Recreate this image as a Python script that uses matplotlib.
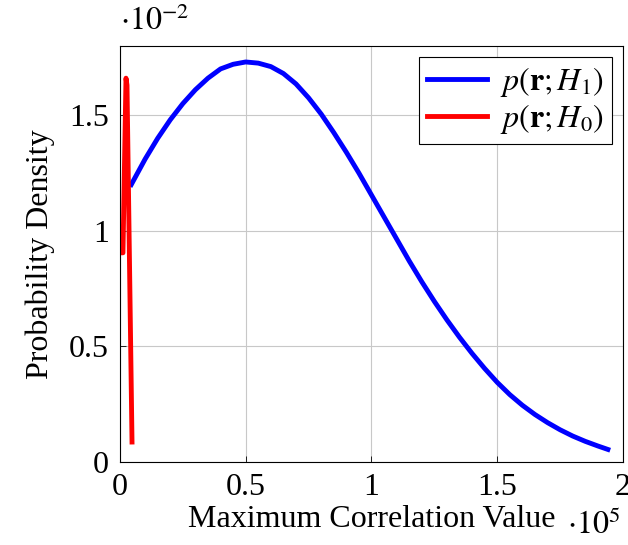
import matplotlib
matplotlib.use("Agg")
import matplotlib.pyplot as plt

plt.rcParams['font.family'] = ['Liberation Serif', 'DejaVu Serif']
plt.rcParams['mathtext.fontset'] = 'stix'

# x in units of 1e5, y in units of 1e-2
x_h1 = [0.045, 0.1, 0.15, 0.2, 0.25, 0.3, 0.35, 0.4, 0.45, 0.5, 0.55, 0.6,
        0.65, 0.7, 0.75, 0.8, 0.85, 0.9, 0.95, 1.0, 1.05, 1.1, 1.15, 1.2,
        1.25, 1.3, 1.35, 1.4, 1.45, 1.5, 1.55, 1.6, 1.65, 1.7, 1.75, 1.8,
        1.85, 1.9, 1.94]
y_h1 = [1.20, 1.31, 1.40, 1.48, 1.55, 1.61, 1.66, 1.70, 1.72, 1.73, 1.725,
        1.71, 1.68, 1.635, 1.575, 1.505, 1.425, 1.34, 1.25, 1.155, 1.06,
        0.965, 0.87, 0.78, 0.695, 0.615, 0.54, 0.47, 0.405, 0.345, 0.292,
        0.246, 0.206, 0.171, 0.14, 0.113, 0.09, 0.07, 0.055]

x_h0 = [0.008, 0.012, 0.024, 0.028, 0.048]
y_h0 = [0.905, 0.905, 1.66, 1.63, 0.087]

fig = plt.figure(figsize=(6.28, 5.45), dpi=100)
ax = fig.add_axes([0.191, 0.152, 0.801, 0.764])

ax.plot(x_h1, y_h1, color='#0000ff', lw=3.5, label=r'$p(\mathbf{r};H_1)$')
ax.plot(x_h0, y_h0, color='#ff0000', lw=3.5, label=r'$p(\mathbf{r};H_0)$')

ax.set_xlim(0, 2)
ax.set_ylim(0, 1.8)
ax.set_xticks([0, 0.5, 1, 1.5, 2])
ax.set_xticklabels(['0', '0.5', '1', '1.5', '2'])
ax.set_yticks([0, 0.5, 1, 1.5])
ax.set_yticklabels(['0', '0.5', '1', '1.5'])
ax.grid(True, color='#c8c8c8', lw=0.8)
ax.tick_params(direction='in', labelsize=23, length=4, width=0.6, pad=8)

ax.set_xlabel('Maximum Correlation Value', fontsize=23, labelpad=2)
ax.set_ylabel('Probability Density', fontsize=23, labelpad=10)

ax.text(0.0, 1.02, r'$\cdot 10^{-2}$', transform=ax.transAxes, fontsize=23,
        ha='left', va='bottom')
ax.text(0.996, -0.115, r'$\cdot 10^{5}$', transform=ax.transAxes, fontsize=23,
        ha='right', va='top')

leg = ax.legend(loc='upper right', fontsize=23, fancybox=False,
                edgecolor='black', framealpha=1, handlelength=1.9,
                borderpad=0.25, labelspacing=0.1, handletextpad=0.4,
                borderaxespad=0.35)
leg.get_frame().set_linewidth(0.8)

fig.savefig('out.png', dpi=100)
